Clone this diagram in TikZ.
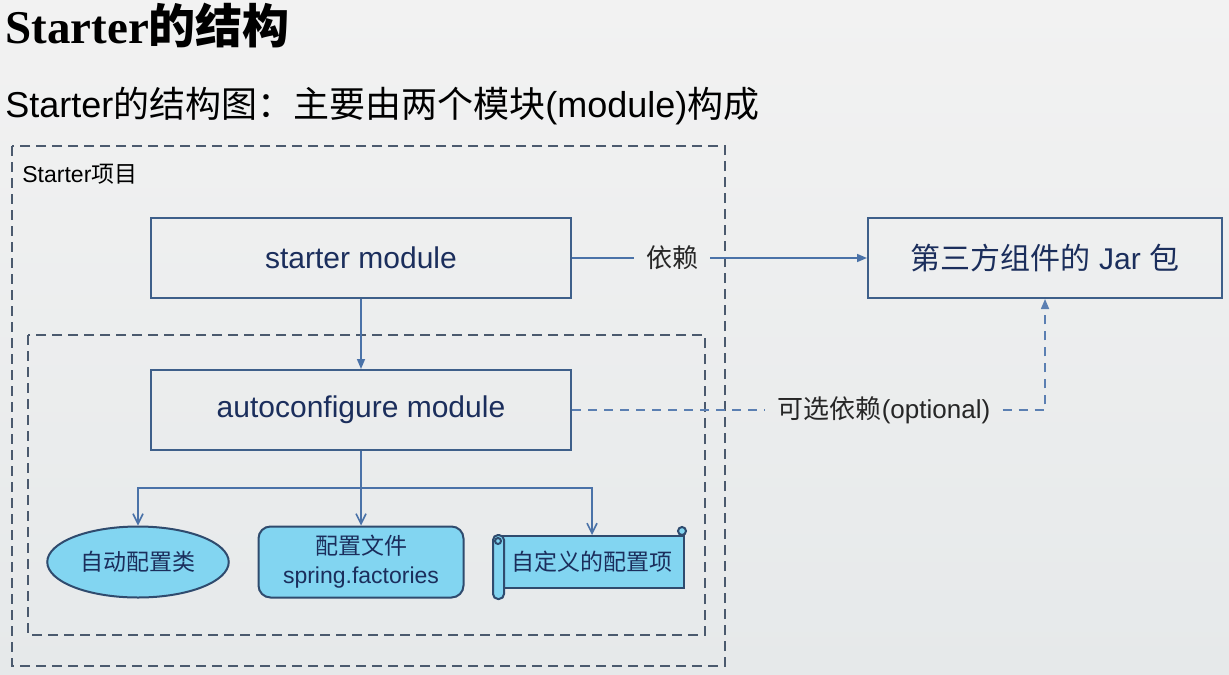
\documentclass[tikz,border=0pt]{standalone}
\usepackage{fontspec}
\setmainfont{Liberation Sans}
\newfontfamily\cjk{Noto Sans CJK SC}
\newfontfamily\serifbf{Liberation Serif}
\usetikzlibrary{calc,arrows.meta,shapes.geometric}
\definecolor{bgtop}{HTML}{F2F2F2}
\definecolor{bgbot}{HTML}{E6E9EA}
\definecolor{frame}{HTML}{4B5A6E}
\definecolor{boxline}{HTML}{3E5F8A}
\definecolor{navy}{HTML}{1B2E5C}
\definecolor{linkc}{HTML}{4A72A8}
\definecolor{optc}{HTML}{5B7FB2}
\definecolor{leafc}{HTML}{82D5F1}
\definecolor{leafline}{HTML}{2F4B6E}
\tikzset{
  modbox/.style={draw=boxline, line width=1pt, minimum width=210pt, minimum height=40pt,
    text=navy, font=\fontsize{15}{18}\selectfont},
  groupbox/.style={draw=frame, line width=1pt, dash pattern=on 5pt off 3pt},
  link/.style={draw=linkc, line width=0.8pt},
  optlink/.style={draw=optc, line width=0.8pt, dash pattern=on 4.5pt off 3.5pt},
  leaf/.style={draw=leafline, line width=1pt, fill=leafc, text=navy,
    font=\fontsize{11.5}{14.5}\selectfont, align=center},
  scrollpart/.style={draw=leafline, line width=1pt, fill=leafc},
  tag/.style={text=black!85, font=\fontsize{13}{16}\selectfont, inner xsep=6pt},
}
\begin{document}
\begin{tikzpicture}[x=0.5pt,y=-0.5pt]
  \shade[top color=bgtop, bottom color=bgbot] (0,0) rectangle (1229,674);
  \useasboundingbox (0,0) rectangle (1229,674);
  % titles
  \node[anchor=base west, inner sep=0pt, font=\fontsize{23.5}{28}\selectfont\bfseries] (title) at (5,44)
    {{\serifbf Starter}{\cjk 的结构}};
  \node[anchor=base west, inner sep=0pt, font=\fontsize{18}{22}\selectfont] (subtitle) at (5,118)
    {Starter{\cjk 的结构图：主要由两个模块}(module){\cjk 构成}};
  % starter project and autoconfigure group
  \draw[groupbox] (12,146) rectangle (725,666);
  \node[anchor=base west, inner sep=0pt, font=\fontsize{11.5}{14}\selectfont] (projlabel) at (22,182)
    {Starter{\cjk 项目}};
  \draw[groupbox] (28,335) rectangle (705,635);
  % modules
  \node[modbox] (starter) at (361,258) {starter module};
  \node[modbox] (auto) at (361,410) {autoconfigure module};
  \node[modbox, minimum width=177pt] (jar) at (1045,258) {{\cjk 第三方组件的} Jar {\cjk 包}};
  \node[tag] (dep) at (672,258) {{\cjk 依赖}};
  \node[tag] (opt) at (884,410) {{\cjk 可选依赖}(optional)};
  % leaves
  \node[leaf, ellipse, minimum width=90pt, minimum height=35.5pt] (cls) at (138,562) {{\cjk 自动配置类}};
  \node[leaf, rounded corners=6pt, minimum width=102.5pt, minimum height=35.5pt] (files) at (361,562)
    {{\cjk 配置文件}\\spring.factories};
  \node[leaf, minimum width=92pt, minimum height=26pt] (custom) at (592,562) {{\cjk 自定义的配置项}};
  \draw[scrollpart, rounded corners=2.5pt] ($(custom.north west)+(-6,0)$) rectangle ($(custom.south west)+(5,10)$);
  \draw[scrollpart] ($(custom.north west)+(-1,6)$) circle[radius=1.5pt];
  \draw[scrollpart] ($(custom.north east)+(-3,-4)$) circle[radius=2pt];
  % connectors
  \draw[link, -{Triangle[length=5pt,width=4pt]}] (starter) -- (auto);
  \draw[link] (starter.east) -- (dep.west);
  \draw[link, -{Triangle[length=5pt,width=4pt]}] (dep.east) -- (jar.west);
  \draw[optlink] (auto.east) -- (opt.west);
  \draw[optlink, -{Triangle[length=5pt,width=4pt]}] (opt.east) -| (jar.south);
  \coordinate (fork) at (361,488);
  \draw[link] (auto.south) -- (fork);
  \draw[link, -{Straight Barb[length=5pt,width=5pt]}] (fork) -- (files.north);
  \draw[link, -{Straight Barb[length=5pt,width=5pt]}] (fork) -| (cls.north);
  \draw[link, -{Straight Barb[length=5pt,width=5pt]}] (fork) -| (custom.north);
\end{tikzpicture}
\end{document}
